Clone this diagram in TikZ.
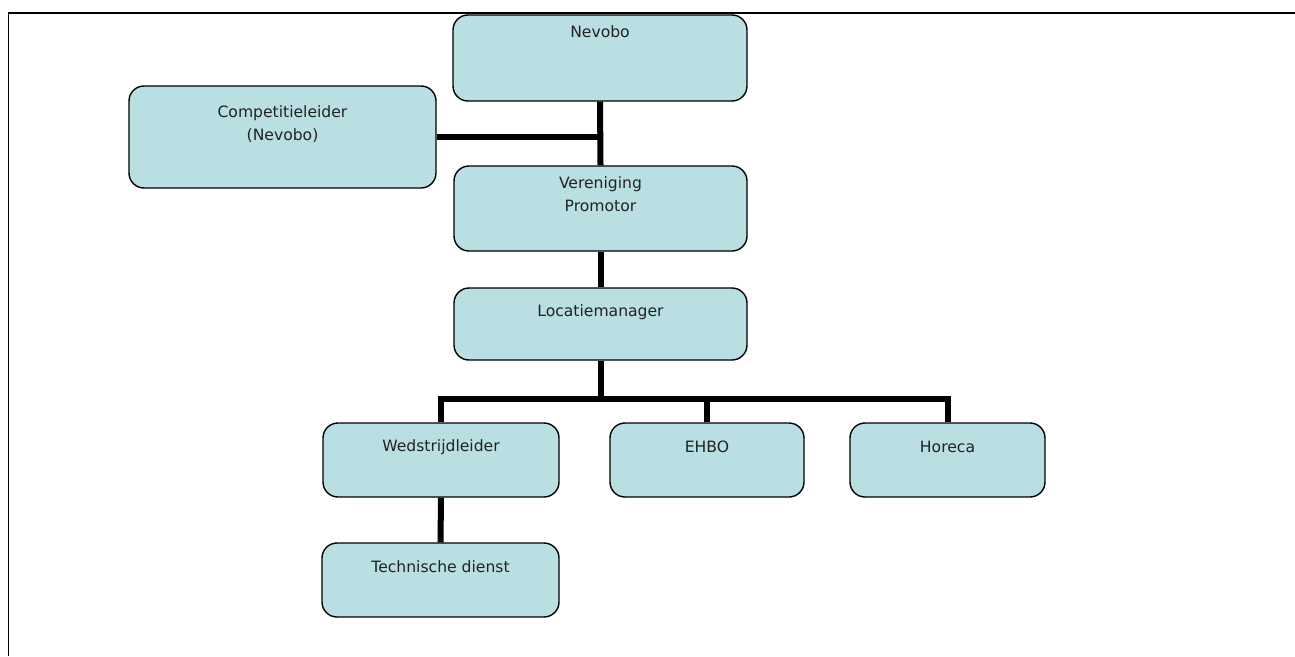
\documentclass[tikz,border=0pt]{standalone}
\usepackage{fontspec}
\setmainfont{DejaVu Sans}
\usepackage{tikz}
\usetikzlibrary{positioning}
\definecolor{boxfill}{HTML}{B9DFE2}
\definecolor{txtgray}{HTML}{222222}

\begin{document}
\begin{tikzpicture}[
x=1pt,y=-1pt,
every node/.style={font=\fontsize{15.6}{23}\selectfont,align=center,text=txtgray},
box/.style={draw=black,line width=1.4pt,rounded corners=15pt,fill=boxfill,inner sep=0pt},
lbl/.style={inner sep=0pt},
conn/.style={line width=6pt,draw=black,line join=miter}
]
\useasboundingbox (0,0) rectangle (1295,656);
\draw[line width=1.6pt] (1295,13) -- (8.5,13) -- (8.5,656);
% boxes
\node[box,minimum width=294,minimum height=86] (nevobo) at (600,58) {};
\node[box,minimum width=307,minimum height=102] (comp) at (282.5,137) {};
\node[box,minimum width=293,minimum height=85] (ver) at (600.5,208.5) {};
\node[box,minimum width=293,minimum height=72] (loc) at (600.5,324) {};
\node[box,minimum width=236,minimum height=74] (wed) at (441,460) {};
\node[box,minimum width=194,minimum height=74] (ehbo) at (707,460) {};
\node[box,minimum width=195,minimum height=74] (horeca) at (947.5,460) {};
\node[box,minimum width=237,minimum height=74] (tech) at (440.5,580) {};
% texts
\node[lbl] (nevobo-t) at (600,32) {Nevobo};
\node[lbl] (comp-t) at (282.5,124.5) {Competitieleider\\(Nevobo)};
\node[lbl] (ver-t) at (600.5,194.5) {Vereniging\\Promotor};
\node[lbl] (loc-t) at (600.5,312) {Locatiemanager};
\node[lbl] (wed-t) at (441,447) {Wedstrijdleider};
\node[lbl] (ehbo-t) at (707,447) {EHBO};
\node[lbl] (horeca-t) at (947.5,447) {Horeca};
\node[lbl] (tech-t) at (440.5,567) {Technische dienst};
% connectors
\coordinate (bus) at (600,399);
\draw[conn] (nevobo.south) -- (ver.north);
\draw[conn] (comp.east) -- (comp.east -| nevobo.south);
\draw[conn] (ver.south) -- (loc.north);
\draw[conn] (loc.south) -- (loc.south |- bus);
\draw[conn] (wed.north) |- (bus) -| (horeca.north);
\draw[conn] (ehbo.north) -- (ehbo.north |- bus);
\draw[conn] (wed.south) -- (tech.north);
\end{tikzpicture}
\end{document}
